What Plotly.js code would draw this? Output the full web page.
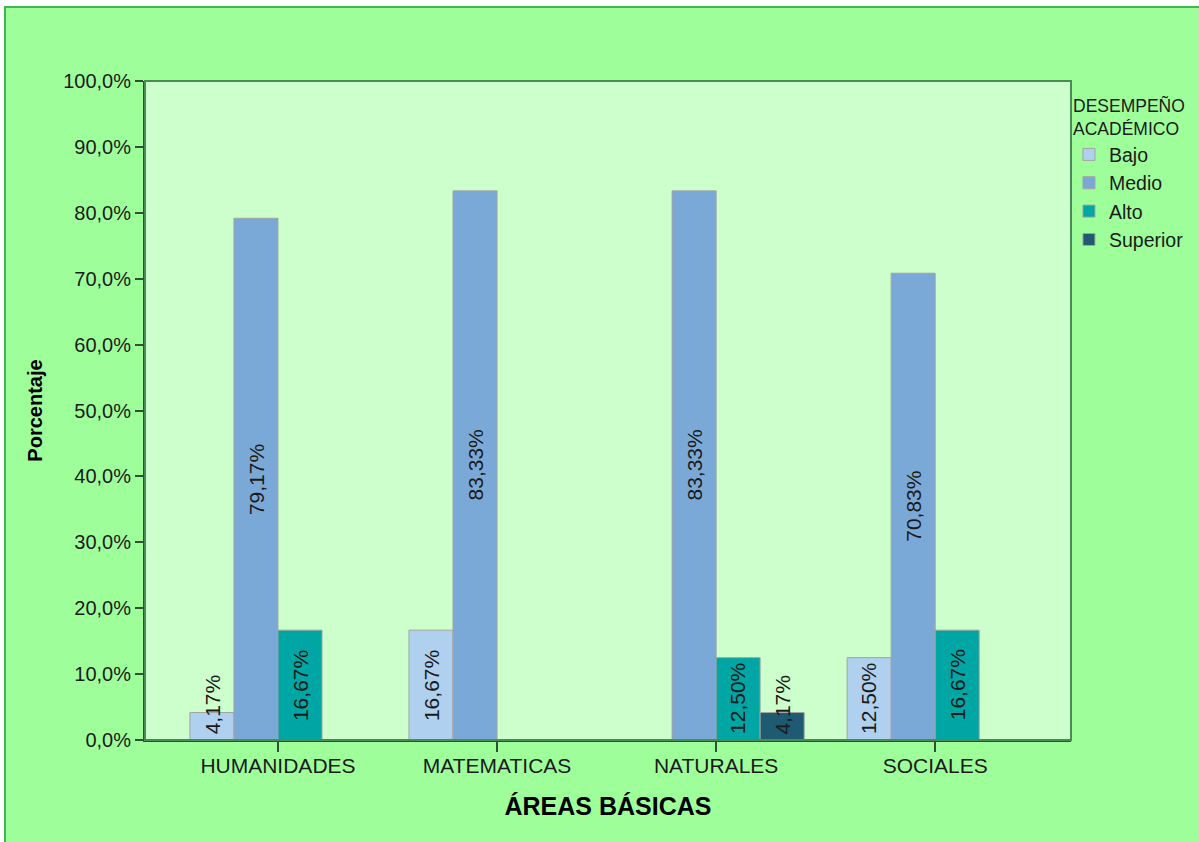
<!DOCTYPE html>
<html>
<head>
<meta charset="utf-8">
<script src="https://cdn.plot.ly/plotly-3.0.1.min.js"></script>
<style>
  html, body { margin: 0; padding: 0; background: #ffffff; width: 1199px; height: 842px; overflow: hidden; }
  #frame { position: absolute; left: 4px; top: 6px; width: 1195px; height: 836px; box-sizing: border-box;
           border-left: 2px solid #3cb84c; border-top: 2px solid #3cb84c; background: #9eff9a; }
  #chart { width: 1193px; height: 834px; }
</style>
</head>
<body>
<div id="frame"><div id="chart"></div></div>
<script>
const categories = ["HUMANIDADES", "MATEMATICAS", "NATURALES", "SOCIALES"];
const seriesNames = ["Bajo", "Medio", "Alto", "Superior"];
const bajo = [4.17, 16.67, null, 12.50];
const medio = [79.17, 83.33, 83.33, 70.83];
const alto = [16.67, null, 12.50, 16.67];
const superior = [null, null, 4.17, null];
const yTickVals = [0, 10, 20, 30, 40, 50, 60, 70, 80, 90, 100];
const yTickText = ["0,0%", "10,0%", "20,0%", "30,0%", "40,0%", "50,0%", "60,0%", "70,0%", "80,0%", "90,0%", "100,0%"];

const colors = ["#afd0ef", "#7ba9d7", "#00a6a3", "#1e5b72"];
const values = [bajo, medio, alto, superior];
const BARGAP = 0.196;
const LABEL_HALF = 5.4; // half of a rotated label's length, in axis units

const fmt = v => v.toFixed(2).replace(".", ",") + "%";

const traces = values.map((v, i) => ({
  type: "bar",
  name: seriesNames[i],
  x: categories,
  y: v,
  marker: { color: colors[i], line: { color: "#a3a3a3", width: 1 } },
  hoverinfo: "skip"
}));

// value labels, rotated, centred on each bar
const slot = (1 - BARGAP) / values.length;
const annotations = [];
values.forEach((arr, k) => {
  arr.forEach((v, ci) => {
    if (v === null) return;
    const yc = (v / 2 >= LABEL_HALF) ? v / 2 : Math.max(v, LABEL_HALF);
    annotations.push({
      x: ci + (k - (values.length - 1) / 2) * slot,
      y: yc,
      xref: "x", yref: "y",
      text: fmt(v),
      textangle: -90,
      showarrow: false,
      xanchor: "center", yanchor: "middle",
      font: { family: "Liberation Sans, Arial, sans-serif", size: 21, color: "#1a1a1a" }
    });
  });
});

const layout = {
  width: 1193, height: 834,
  paper_bgcolor: "#9eff9a",
  plot_bgcolor: "#ccffcc",
  separators: ",.",
  font: { family: "Liberation Sans, Arial, sans-serif", size: 20, color: "#1a1a1a" },
  margin: { l: 139, r: 128, t: 73, b: 102, pad: 0, autoexpand: false },
  barmode: "group",
  bargap: BARGAP,
  bargroupgap: 0,
  showlegend: true,
  legend: {
    xref: "container", yref: "container",
    x: 0.891, y: 0.902, xanchor: "left", yanchor: "top",
    bgcolor: "rgba(0,0,0,0)",
    font: { size: 19.5, color: "#1a1a1a" },
    title: { text: "DESEMPEÑO<br>ACADÉMICO", side: "top center", font: { size: 17.5, color: "#1a1a1a" } },
    traceorder: "normal",
    itemclick: false, itemdoubleclick: false
  },
  xaxis: {
    type: "category",
    range: [-0.607, 3.62],
    showgrid: false, zeroline: false,
    showline: true, linecolor: "#2f4f36", linewidth: 2,
    ticks: "outside", ticklen: 10, tickwidth: 2, tickcolor: "#2f4f36",
    ticklabelstandoff: -4,
    tickfont: { size: 21, color: "#1a1a1a" },
    title: { text: "ÁREAS BÁSICAS", font: { size: 25, color: "#000", family: "Liberation Sans, Arial, sans-serif", weight: "bold" }, standoff: 21 },
    fixedrange: true
  },
  yaxis: {
    range: [0, 100],
    tickmode: "array",
    tickvals: yTickVals,
    ticktext: yTickText,
    showgrid: false, zeroline: false,
    showline: true, linecolor: "#2f4f36", linewidth: 2,
    ticks: "outside", ticklen: 8, tickwidth: 2, tickcolor: "#2f4f36",
    tickfont: { size: 20, color: "#1a1a1a" },
    title: { text: "Porcentaje", font: { size: 20, color: "#000", family: "Liberation Sans, Arial, sans-serif", weight: "bold" }, standoff: 15 },
    fixedrange: true
  },
  annotations: annotations,
  shapes: [{
    type: "rect", xref: "paper", yref: "paper", x0: 0, x1: 1, y0: 0, y1: 1,
    line: { color: "#4d8a5a", width: 2 }, layer: "above"
  }]
};

Plotly.newPlot("chart", traces, layout, { displayModeBar: false, staticPlot: true });
</script>
</body>
</html>
